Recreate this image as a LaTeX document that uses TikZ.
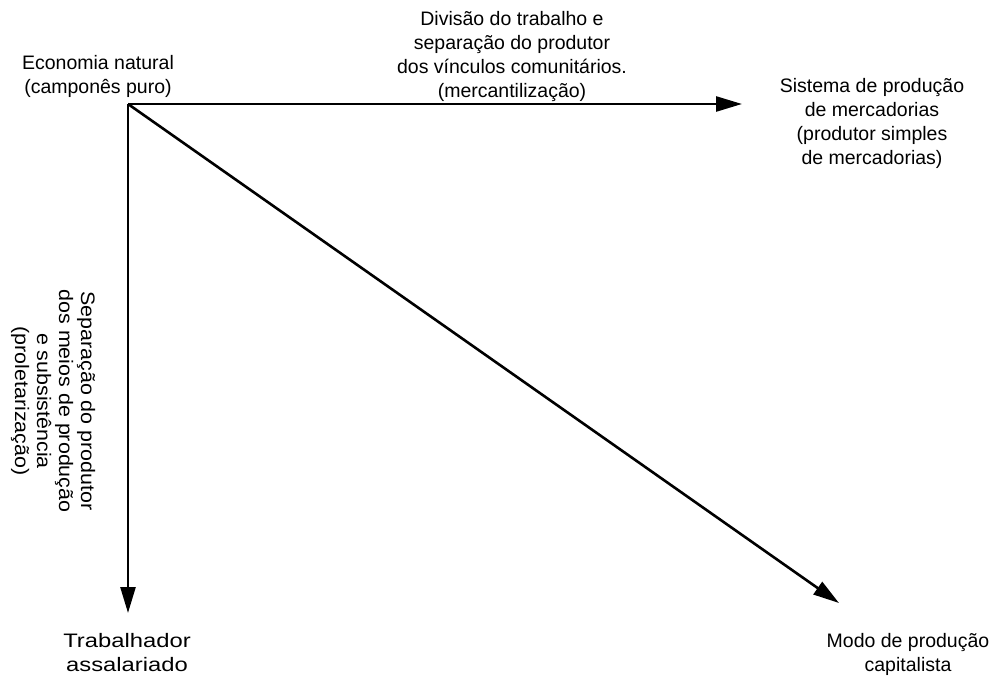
\documentclass[tikz,border=0pt]{standalone}
\usepackage{fontspec}
\setmainfont{Liberation Sans}
\usetikzlibrary{arrows.meta}
\begin{document}
\begin{tikzpicture}[x=1pt,y=-1pt,
  lbl/.style={align=center,inner sep=0pt,font=\fontsize{19.5}{24}\selectfont},
  conn/.style={line width=2.6pt,-{Triangle[length=26pt,width=15pt]}}]
\useasboundingbox (0,0) rectangle (998,676);
\coordinate (o) at (128,104);
\coordinate (h) at (742,104);
\coordinate (v) at (128,613);
\coordinate (d) at (839,603);
\draw[conn] (o) -- (h);
\draw[conn] (o) -- (v);
\draw[conn] (o) -- (d);
\node[lbl] (eco) at (98,76) {Economia natural\\(camponês puro)};
\node[lbl] (div) at (512,57) {Divisão do trabalho e\\separação do produtor\\dos vínculos comunitários.\\(mercantilização)};
\node[lbl] (sis) at (872,123) {Sistema de produção\\de mercadorias\\(produtor simples\\de mercadorias)};
\node[lbl,rotate=-90,font=\fontsize{19.5}{22}\selectfont] (sep) at (53,401) {\scalebox{1.1}[1]{Separação do produtor}\\\scalebox{1.1}[1]{dos meios de produção}\\\scalebox{1.1}[1]{e subsistência}\\\scalebox{1.1}[1]{(proletarização)}};
\node[lbl] (tra) at (127,653) {\scalebox{1.22}[1]{Trabalhador}\\\scalebox{1.22}[1]{assalariado}};
\node[lbl] (mod) at (908,654) {Modo de produção\\capitalista};
\end{tikzpicture}
\end{document}
